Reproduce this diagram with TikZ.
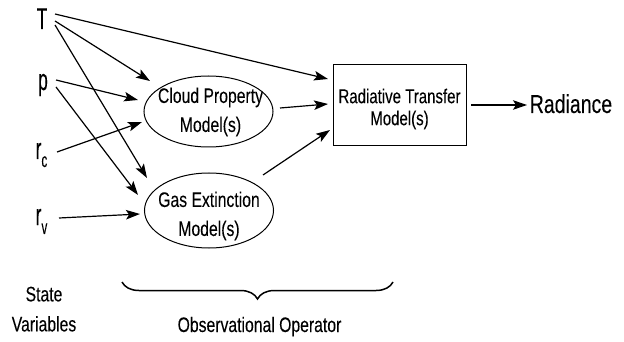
\documentclass[tikz,border=0pt]{standalone}
\usepackage{fontspec}
\newfontfamily\lblfont[FakeStretch=0.75,FakeBold=0.08]{Liberation Sans}
\newfontfamily\varfont[FakeStretch=0.58,FakeBold=0.08]{Liberation Sans}
\usetikzlibrary{arrows.meta,calc,decorations.pathreplacing,shapes.geometric}
\begin{document}
\begin{tikzpicture}[x=1pt,y=-1pt,
  conn/.style={line width=1.2pt, -{Stealth[length=14pt,width=9.5pt,inset=3pt]}},
  var/.style={inner sep=0pt, anchor=base, font=\varfont\fontsize{30}{30}\selectfont},
  model/.style={ellipse, draw, line width=1pt, minimum width=129pt, minimum height=71pt, inner sep=0pt},
  boxstyle/.style={draw, line width=1pt, minimum width=133pt, minimum height=81pt, inner sep=0pt},
  mtext/.style={inner sep=0pt, anchor=north, align=center, font=\lblfont\fontsize{21}{29}\selectfont},
  plain/.style={inner sep=0pt, anchor=base, font=\lblfont\fontsize{21}{21}\selectfont}]
\useasboundingbox (0,0) rectangle (624,342);

% state variables
\node[var] (T) at (42,29) {T};
\node[var] (p) at (43,90) {p};
\node[var] (rc) at (41.5,159) {r\raisebox{-8pt}{\fontsize{20}{20}\selectfont c}};
\node[var] (rv) at (41.5,225) {r\raisebox{-9pt}{\fontsize{20}{20}\selectfont v}};

% models
\node[model] (cloud) at (208.5,111.5) {};
\node[mtext] (cloudt) at (210.5,87.5) {Cloud Property\\Model(s)};
\node[model, minimum height=75pt] (gas) at (209,210.5) {};
\node[mtext] (gast) at (209,191.5) {Gas Extinction\\Model(s)};
\node[boxstyle] (rtm) at (399.5,105.5) {};
\node[mtext, font=\lblfont\fontsize{20}{22}\selectfont] (rtmt) at (399.5,88.5) {Radiative Transfer\\Model(s)};
\node[plain, font=\lblfont\fontsize{26}{26}\selectfont] (rad) at (571,113) {Radiance};

% connectors
\draw[conn] ($(T.base)+(13,-15)$) -- ($(rtm.center)+(-71.5,-26.5)$);
\draw[conn] ($(T.base)+(13,-8)$) -- ($(cloud.center)+(-58.5,-30.5)$);
\draw[conn] ($(T.base)+(13,-4)$) -- ($(gas.center)+(-62,-32.5)$);
\draw[conn] ($(p.base)+(13,-10)$) -- ($(cloud.center)+(-70.5,-11.5)$);
\draw[conn] ($(p.base)+(13,-3)$) -- ($(gas.center)+(-71,-15.5)$);
\draw[conn] ($(rc.base)+(15.5,-7)$) -- ($(cloud.center)+(-66.5,10.5)$);
\draw[conn] ($(rv.base)+(17.5,-7)$) -- ($(gas.center)+(-69,3.5)$);
\draw[conn] ($(cloud.center)+(71.5,-3.5)$) -- ($(rtm.center)+(-71.5,-1.5)$);
\draw[conn] ($(gas.center)+(54,-35.5)$) -- ($(rtm.center)+(-69.5,24.5)$);
\draw[conn] ($(rtm.center)+(71.5,-0.5)$) -- ($(rad.base)+(-44,-8)$);

% brace and captions
\draw[decorate, decoration={brace, mirror, amplitude=17pt}, line width=1.5pt] (122,282) -- (393,282);
\node[mtext, font=\lblfont\fontsize{21}{30}\selectfont] (sv) at (44,286.5) {State\\Variables};
\node[plain] (oo) at (259.5,332) {Observational Operator};
\end{tikzpicture}
\end{document}
